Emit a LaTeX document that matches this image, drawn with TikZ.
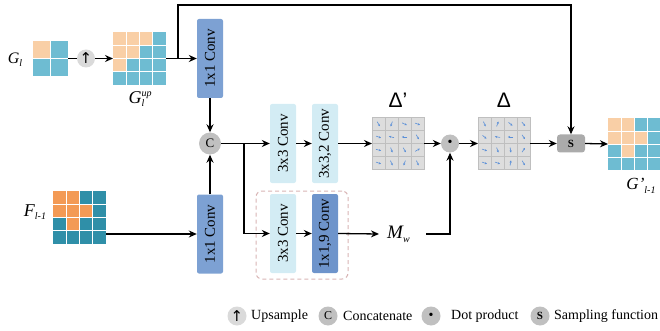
\documentclass[tikz,border=0pt]{standalone}
\usepackage{fontspec}
\usepackage{graphicx}
\setmainfont{Liberation Serif}
\newfontfamily\sansf{Liberation Sans}
\newfontfamily\djv{DejaVu Sans}
\usetikzlibrary{arrows.meta,calc}
\definecolor{peach}{HTML}{F9CFA6}
\definecolor{lblue}{HTML}{6EBCD2}
\definecolor{orng}{HTML}{F39A55}
\definecolor{teal2}{HTML}{2F8FA8}
\definecolor{convblue}{HTML}{7DA1D3}
\definecolor{convdark}{HTML}{6E94CB}
\definecolor{convlight}{HTML}{D3ECF4}
\definecolor{cgray}{HTML}{C0C0C0}
\definecolor{ugray}{HTML}{DADADA}
\definecolor{sgray}{HTML}{ABABAB}
\definecolor{dfill}{HTML}{DDDDDD}
\definecolor{dline}{HTML}{BFBFBF}
\definecolor{vecblue}{HTML}{5A8FD8}
\definecolor{dashpink}{HTML}{D8B4B4}
\newcommand\fillcells[4]{%
  \foreach \ci/\ri in {#4}{\fill[#3] ($(#1.north west)+(\ci*#2,\ri*#2)$) rectangle ++(#2,#2);}}
\newcommand\gridlines[4]{%
  \foreach \ii in {1,...,#3}{%
    \draw[#4] ($(#1.north west)+(\ii*#2,0)$) -- ++(0,{(#3+1)*#2});
    \draw[#4] ($(#1.north west)+(0,\ii*#2)$) -- ++({(#3+1)*#2},0);}}
\newcommand\vecs[3]{%
  \foreach \aa [count=\kk from 0] in {#3}{%
    \pgfmathtruncatemacro\ci{mod(\kk,4)}\pgfmathtruncatemacro\ri{div(\kk,4)}%
    \draw[vec] ($(#1.north west)+({(\ci+0.5)*#2-2.6*cos(\aa)},{(\ri+0.5)*#2+2.6*sin(\aa)})$) -- ++({5.2*cos(\aa)},{-5.2*sin(\aa)});}}
\newcommand\sbs[1]{\raisebox{-0.45ex}{\fontsize{10}{10}\selectfont #1}}
\newcommand\sps[1]{\raisebox{0.85ex}{\fontsize{10}{10}\selectfont #1}}
\begin{document}
\begin{tikzpicture}[x=1pt,y=-1pt,
  arr/.style={line width=1.3pt,-{Stealth[length=8pt,width=7pt]}},
  ln/.style={line width=1.3pt},
  conv/.style={rounded corners=2pt,minimum width=26pt,minimum height=79pt,inner sep=0pt,font=\fontsize{15}{15}\selectfont},
  gridbox/.style={inner sep=0pt,outer sep=0pt,minimum size=#1},
  circ/.style={circle,inner sep=0pt,minimum size=#1},
  lbl/.style={font=\itshape,inner sep=0pt},
  leg/.style={font=\fontsize{14}{16}\selectfont,anchor=west,inner sep=0pt},
  vec/.style={vecblue,line width=0.6pt,-{Stealth[length=2.2pt,width=2.2pt]}},
  wline/.style={white,line width=0.8pt},
  gline/.style={dline,line width=0.8pt}]
\useasboundingbox (0,0) rectangle (660,331);

% ---- grids
\node[gridbox=35pt,fill=lblue] (gl) at (50.5,58.5) {};
\fillcells{gl}{17.5}{peach}{0/0}
\gridlines{gl}{17.5}{1}{wline}

\node[gridbox=53pt,fill=lblue] (gup) at (139.5,58.5) {};
\fillcells{gup}{13.25}{peach}{0/0,1/0,2/0,0/1,1/1,0/2}
\gridlines{gup}{13.25}{3}{wline}

\node[gridbox=53pt,fill=teal2] (F) at (79.5,217.5) {};
\fillcells{F}{13.25}{orng}{0/0,1/0,0/1,1/1,2/1,1/2}
\gridlines{F}{13.25}{3}{wline}

\node[gridbox=52pt,fill=lblue] (go) at (634,144) {};
\fillcells{go}{13}{peach}{0/0,1/0,0/1,1/1,2/1,1/2}
\gridlines{go}{13}{3}{wline}

\node[gridbox=52pt,fill=dfill,draw=dline,line width=0.6pt] (dp) at (398,143.5) {};
\gridlines{dp}{13}{3}{gline}
\vecs{dp}{13}{-60,250,-25,-20,-20,165,180,-60,-15,-70,-60,30,-20,-65,250,-65}

\node[gridbox=52pt,fill=dfill,draw=dline,line width=0.6pt] (dl) at (504,143.5) {};
\gridlines{dl}{13}{3}{gline}
\vecs{dl}{13}{-65,70,-40,-50,-40,170,180,-55,-20,-70,-80,55,-20,-20,80,-60}

% ---- labels
\node[lbl,font=\fontsize{16}{18}\selectfont\itshape] (lgl) at (15,60) {G\sbs{l}};
\node[lbl,font=\fontsize{18}{20}\selectfont\itshape] (lgup) at (140,99) {G\rlap{\sbs{l}}\sps{up}};
\node[lbl,font=\fontsize{18}{20}\selectfont\itshape] (lF) at (35,212) {F\sbs{l-1}};
\node[lbl,font=\fontsize{19}{20}\selectfont\itshape,anchor=west] (Mw) at (387,234) {M\sbs{w}};
\node[lbl,font=\fontsize{17}{20}\selectfont\itshape] (lgo) at (641,186) {G'\sbs{l-1}};
\node[font=\sansf\fontsize{21}{21}\selectfont,inner sep=0pt] (ldp) at (398,100) {Δ’};
\node[font=\sansf\fontsize{21}{21}\selectfont,inner sep=0pt] (ldl) at (504,100) {Δ};

% ---- operators
\node[circ=18pt,fill=ugray] (up) at (86,58.5) {\djv\fontsize{15}{15}\selectfont ↑};
\node[circ=22pt,fill=cgray,font=\fontsize{13}{13}\selectfont] (C) at (210,143.5) {C};
\node[circ=18pt,fill=cgray,font=\fontsize{14}{14}\selectfont] (dot) at (450,143.5) {•};
\node[fill=sgray,rounded corners=3pt,minimum width=28pt,minimum height=18pt,inner sep=0pt,font=\fontsize{11}{11}\selectfont\bfseries] (S) at (571,143.5) {S};

% ---- conv boxes
\node[conv,fill=convblue] (c1t) at (210,58.5) {\rotatebox{90}{1x1 Conv}};
\node[conv,fill=convblue] (c1b) at (210,234) {\rotatebox{90}{1x1 Conv}};
\node[conv,fill=convlight] (c3a) at (283,143.5) {\rotatebox{90}{3x3 Conv}};
\node[conv,fill=convlight] (c32) at (325,143.5) {\rotatebox{90}{3x3,2 Conv}};
\node[conv,fill=convlight] (c3b) at (283,233.5) {\rotatebox{90}{3x3 Conv}};
\node[conv,fill=convdark] (c19) at (325,233.5) {\rotatebox{90}{1x1,9 Conv}};
\node[draw=dashpink,dash pattern=on 4pt off 3pt,line width=1pt,rounded corners=6pt,minimum width=92pt,minimum height=88pt] (dbox) at (302,235) {};

% ---- connectors
\coordinate (br1) at (178,58.5);
\coordinate (top) at (0,5);
\coordinate (br2) at (244,143.5);
\coordinate (mwin) at (379,234);
\coordinate (mwout) at (426,234);
\draw[ln] (gl.east) -- (up.west);
\draw[arr] (up.east) -- (gup.west);
\draw[arr] (gup.east) -- (c1t.west);
\draw[arr] (br1) -- (br1 |- top) -- (S.north |- top) -- (S.north);
\draw[arr] (c1t.south) -- (C.north);
\draw[arr] (c1b.north) -- (C.south);
\draw[arr] (c1b.west -| F.east) -- (c1b.west);
\draw[arr] (C.east) -- (c3a.west);
\draw[arr] (br2) |- (c3b.west);
\draw[arr] (c3a.east) -- (c32.west);
\draw[arr] (c32.east) -- (dp.west);
\draw[arr] (c3b.east) -- (c19.west);
\draw[arr] (c19.east) -- (mwin);
\draw[arr] (mwout) -| (dot.south);
\draw[arr] (dp.east) -- (dot.west);
\draw[arr] (dot.east) -- (dl.west);
\draw[arr] (dl.east) -- (S.west);
\draw[arr] (S.east) -- (go.west);

% ---- legend
\node[circ=19pt,fill=ugray] (lu) at (237,316) {\djv\fontsize{15}{15}\selectfont ↑};
\node[leg] (tu) at (251,316) {Upsample};
\node[circ=19pt,fill=cgray,font=\fontsize{12}{12}\selectfont] (lc) at (328,316) {C};
\node[leg] (tc) at (343,316) {Concatenate};
\node[circ=19pt,fill=cgray,font=\fontsize{14}{14}\selectfont] (ld) at (431,316) {•};
\node[leg] (td) at (451,316) {Dot product};
\node[circ=19pt,fill=cgray,font=\fontsize{11}{11}\selectfont\bfseries] (ls) at (540,316) {S};
\node[leg] (ts) at (554,316) {Sampling function};
\end{tikzpicture}
\end{document}
